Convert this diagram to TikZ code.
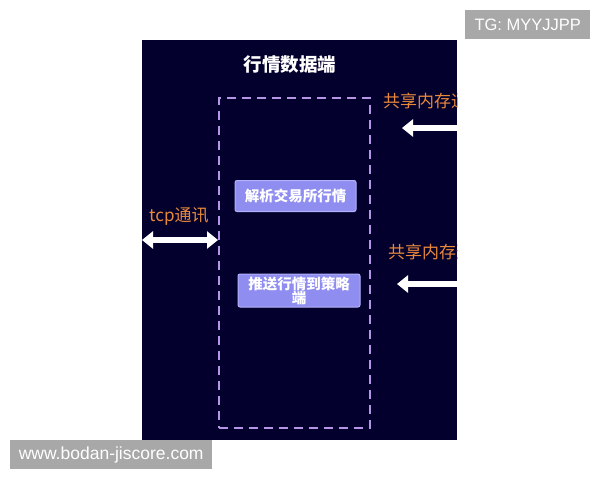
\documentclass[tikz,border=0pt]{standalone}
\usepackage{fontspec}
\setmainfont{Liberation Sans}
\newfontfamily\cjk{Noto Sans CJK SC}
\usetikzlibrary{arrows.meta}
\definecolor{panel}{HTML}{03002E}
\definecolor{dashc}{HTML}{B795E6}
\definecolor{boxc}{HTML}{8F8DF0}
\definecolor{boxb}{HTML}{B3B1FA}
\definecolor{orangec}{HTML}{E8893A}
\definecolor{wmgray}{HTML}{A8A8A8}
\tikzset{
  procbox/.style={draw=boxb, line width=1pt, fill=boxc, rounded corners=2pt, text=white, font=\cjk\bfseries\fontsize{14.5}{15}\selectfont, align=center, inner sep=0pt},
  wm/.style={fill=wmgray, text=white, inner sep=0pt},
  lbl/.style={text=orangec, font=\cjk\fontsize{17}{18}\selectfont, anchor=west, inner sep=0pt},
  fatarrow/.style={draw=white, line width=6pt, -{Triangle[length=11pt,width=17pt]}},
  fatdouble/.style={draw=white, line width=6pt, {Triangle[length=11pt,width=17pt]}-{Triangle[length=11pt,width=17pt]}},
}
\begin{document}
\begin{tikzpicture}[x=1pt,y=-1pt]
\useasboundingbox (0,0) rectangle (600,480);
\fill[white] (0,0) rectangle (600,480);
% panel
\node[fill=panel, minimum width=315pt, minimum height=400pt, inner sep=0pt, anchor=north west] (panel) at (142,40) {};
\node[text=white, font=\cjk\bfseries\fontsize{18.5}{19}\selectfont] (title) at (290,65) {行情数据端};
% dashed container
\node[draw=dashc, dash pattern=on 9pt off 6pt, line width=1.6pt, minimum width=151pt, minimum height=330pt, inner sep=0pt, anchor=north west] (proc) at (218,97) {};
% boxes
\node[procbox, minimum width=121pt, minimum height=31pt] (parse) at (295.5,196) {解析交易所行情};
\node[procbox, minimum width=122pt, minimum height=33pt] (push) at (299,290.5) {推送行情到策略\\[-1pt]端};
% tcp
\coordinate (tcpl) at (142,240);
\coordinate (tcpr) at (proc.west |- tcpl);
\node[lbl] (tcplbl) at (149,216) {tcp通讯};
\draw[fatdouble] (tcpl) -- (tcpr);
% right side, clipped by panel
\begin{scope}
\clip (panel.north west) rectangle (panel.south east);
\node[lbl] (shm1) at (383,101) {共享内存通讯};
\node[lbl] (shm2) at (388,252) {共享内存通讯};
\coordinate (a1s) at (472,128);
\coordinate (a1e) at (402,128);
\coordinate (a2s) at (472,284);
\coordinate (a2e) at (397,284);
\draw[fatarrow] (a1s) -- (a1e);
\draw[fatarrow] (a2s) -- (a2e);
\end{scope}
% watermarks
\node[wm, font=\fontsize{16.5}{17}\selectfont, minimum width=125pt, minimum height=29pt, anchor=north west] (wm1) at (465,10) {TG: MYYJJPP};
\node[wm, font=\fontsize{17.5}{18}\selectfont, minimum width=202pt, minimum height=29pt, anchor=north west] (wm2) at (10,440) {www.bodan-jiscore.com};
\end{tikzpicture}
\end{document}
